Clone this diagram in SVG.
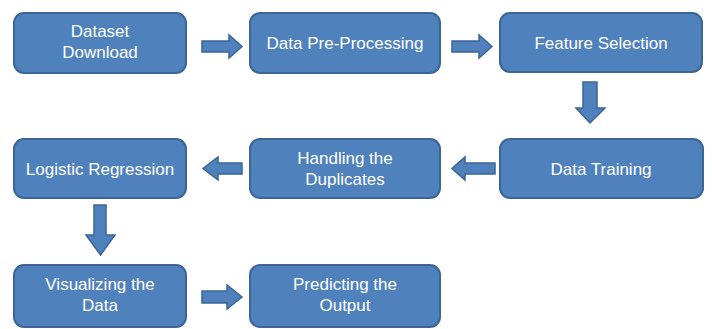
<svg xmlns="http://www.w3.org/2000/svg" width="712" height="329" viewBox="0 0 712 329">
<style>
.box{fill:#4F81BD;stroke:#3A6594;stroke-width:2}
.arr{fill:#4F81BD;stroke:#3A6594;stroke-width:1.5;stroke-linejoin:miter}
text{font-family:"Liberation Sans",Arial,sans-serif;font-size:17px;fill:#FFFFFF;text-anchor:middle}
</style>
<rect width="712" height="329" fill="#FFFFFF"/>
<g id="n1"><rect class="box" x="14" y="13" width="172" height="60" rx="10"/><text x="100" y="37">Dataset</text><text x="100" y="58">Download</text></g>
<g id="n2"><rect class="box" x="250" y="13" width="190" height="60" rx="10"/><text x="345" y="49">Data Pre-Processing</text></g>
<g id="n3"><rect class="box" x="500" y="13" width="202" height="59" rx="10"/><text x="601" y="49">Feature Selection</text></g>
<g id="n4"><rect class="box" x="500" y="139" width="203" height="59" rx="10"/><text x="601" y="175">Data Training</text></g>
<g id="n5"><rect class="box" x="250" y="139" width="190" height="59" rx="10"/><text x="345" y="164">Handling the</text><text x="345" y="185">Duplicates</text></g>
<g id="n6"><rect class="box" x="14" y="139" width="172" height="59" rx="10"/><text x="100" y="175">Logistic Regression</text></g>
<g id="n7"><rect class="box" x="14" y="265" width="172" height="62" rx="10"/><text x="100" y="290">Visualizing the</text><text x="100" y="311">Data</text></g>
<g id="n8"><rect class="box" x="250" y="265" width="190" height="62" rx="10"/><text x="345" y="290">Predicting the</text><text x="345" y="311">Output</text></g>
<g id="connectors">
<polygon class="arr" points="202,41 229,41 229,35 242,46.5 229,58 229,52 202,52"/>
<polygon class="arr" points="452,41 479,41 479,35 492,46.5 479,58 479,52 452,52"/>
<polygon class="arr" points="583,82 597,82 597,108 605,108 590,123 576,108 583,108"/>
<polygon class="arr" points="495,163 465,163 465,157 452,168.5 465,180 465,174 495,174"/>
<polygon class="arr" points="242,163 218,163 218,157 203,168.5 218,180 218,174 242,174"/>
<polygon class="arr" points="94,205 106,205 106,235 115,235 100.5,255 86,235 94,235"/>
<polygon class="arr" points="202,291 227,291 227,285 242,297 227,309 227,303 202,303"/>
</g>
</svg>
